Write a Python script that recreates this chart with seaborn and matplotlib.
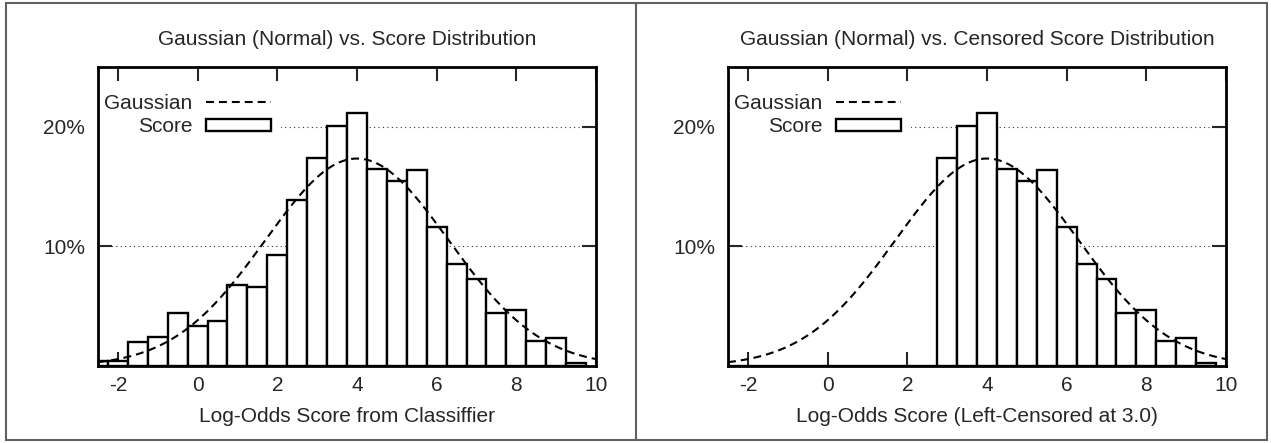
import numpy as np
import pandas as pd
import matplotlib
matplotlib.use("Agg")
import matplotlib.pyplot as plt
import seaborn as sns
from matplotlib.lines import Line2D
from matplotlib.patches import Patch, Rectangle

# ---- data ----
bin_centers = [-2.5, -2.0, -1.5, -1.0, -0.5, 0.0, 0.5, 1.0, 1.5, 2.0, 2.5, 3.0,
               3.5, 4.0, 4.5, 5.0, 5.5, 6.0, 6.5, 7.0, 7.5, 8.0, 8.5, 9.0, 9.5]
score_pct = [0.38, 0.38, 2.0, 2.45, 4.4, 3.35, 3.75, 6.75, 6.62, 9.3, 13.85, 17.35,
             20.1, 21.15, 16.5, 15.45, 16.35, 11.6, 8.5, 7.3, 4.45, 4.65, 2.05, 2.35, 0.28]
bin_width = 0.5
censor_at = 3.0
gauss_mean = 4.0
gauss_sd = 2.3
x_ticks = [-2, 0, 2, 4, 6, 8, 10]
y_ticks = [10, 20]
y_tick_labels = ["10%", "20%"]
titles = ["Gaussian (Normal) vs. Score Distribution",
          "Gaussian (Normal) vs. Censored Score Distribution"]
xlabels = ["Log-Odds Score from Classiffier",
           "Log-Odds Score (Left-Censored at 3.0)"]

sns.set_style("white")
plt.rcParams["font.family"] = ["Liberation Sans", "DejaVu Sans"]

df = pd.DataFrame({"center": bin_centers, "pct": score_pct})
df_cens = df[df["center"] >= censor_at].reset_index(drop=True)
edges = [float(e) for e in np.arange(min(bin_centers) - bin_width / 2,
                                     max(bin_centers) + bin_width, bin_width)]

xg = np.linspace(-2.5, 10, 400)
yg = 100 * np.exp(-0.5 * ((xg - gauss_mean) / gauss_sd) ** 2) / (gauss_sd * np.sqrt(2 * np.pi))
gdf = pd.DataFrame({"x": xg, "y": yg})

FS = 15
fig = plt.figure(figsize=(12.71, 4.43), dpi=100)
ax_w = 498 / 1271
ax_h = 299 / 443
ax_y = 77 / 443
axes = [fig.add_axes([98 / 1271, ax_y, ax_w, ax_h]),
        fig.add_axes([728 / 1271, ax_y, ax_w, ax_h])]

dash = (3.8, 2.4)
for ax, data, title, xl in zip(axes, [df, df_cens], titles, xlabels):
    ax.set_axisbelow(True)
    ax.yaxis.grid(True, color="#333333", linestyle=(0, (1, 3)), linewidth=0.8, zorder=0)
    sns.histplot(x=data["center"].to_numpy(), weights=data["pct"].to_numpy(), bins=edges,
                 stat="count", ax=ax, color="white", edgecolor="black", linewidth=1.7,
                 alpha=1, zorder=2)
    sns.lineplot(data=gdf, x="x", y="y", ax=ax, color="black", linewidth=1.5, zorder=3)
    ax.lines[-1].set_dashes(dash)
    ax.set_xlim(-2.5, 10)
    ax.set_ylim(0, 25)
    ax.set_xticks(x_ticks)
    ax.set_xticklabels([str(t) for t in x_ticks])
    ax.set_yticks(y_ticks)
    ax.set_yticklabels(y_tick_labels)
    ax.tick_params(axis="x", direction="in", length=10, width=1.5, top=True, bottom=True,
                   labelsize=FS, pad=7.5)
    ax.tick_params(axis="y", direction="in", length=10, width=1.5, left=True, right=True,
                   labelsize=FS, pad=9.4)
    for s in ax.spines.values():
        s.set_visible(True)
        s.set_linewidth(2.0)
        s.set_color("black")
    ax.set_title(title, fontsize=FS, pad=16)
    ax.set_xlabel(xl, fontsize=FS, labelpad=8)
    ax.set_ylabel("")
    handles = [Line2D([], [], color="black", linewidth=1.5, dashes=dash),
               Patch(facecolor="white", edgecolor="black", linewidth=1.7)]
    leg = ax.legend(handles, ["Gaussian", "Score"], markerfirst=False, loc="upper right",
                    bbox_to_anchor=(0.368, 0.945), frameon=True, fancybox=False,
                    framealpha=1, facecolor="white", edgecolor="none", fontsize=FS,
                    handlelength=3.1, handletextpad=0.67, labelspacing=0.22,
                    handleheight=0.55, borderpad=0.5, borderaxespad=0)
    leg.set_zorder(2.45)

# panel frames
fig.add_artist(Rectangle((6 / 1271, 3 / 443), 1261 / 1271, 437 / 443, transform=fig.transFigure,
                         fill=False, edgecolor="#606060", linewidth=1.5))
fig.add_artist(Line2D([635.5 / 1271, 635.5 / 1271], [3 / 443, 440 / 443],
                      transform=fig.transFigure, color="#606060", linewidth=1.5))

fig.savefig("out.png", dpi=100)
